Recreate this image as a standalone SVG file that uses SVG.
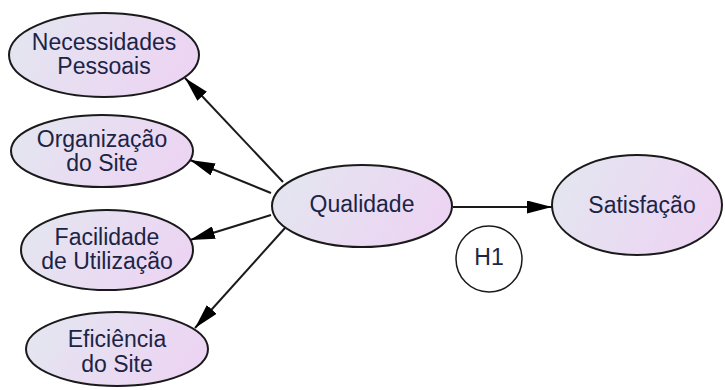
<svg xmlns="http://www.w3.org/2000/svg" width="725" height="390" viewBox="0 0 725 390">
<style>
.n{stroke:#1a1a1a;stroke-width:2;fill:url(#g)}
.t{font-family:"Liberation Sans",Arial,sans-serif;font-size:23px;fill:#1c2446;text-anchor:middle}
.c{stroke:#1a1a1a;stroke-width:2;fill:none;marker-end:url(#a)}
</style>
<defs>
<linearGradient id="g" x1="0" y1="0" x2="1" y2="0.3">
<stop offset="0" stop-color="#e3e7f0"/>
<stop offset="1" stop-color="#ecd5f3"/>
</linearGradient>
<marker id="a" viewBox="0 0 25 13" refX="25" refY="6.5" markerWidth="25" markerHeight="13" markerUnits="userSpaceOnUse" orient="auto">
<path d="M0,0 L25,6.5 L0,13 Z" fill="#000"/>
</marker>
</defs>
<g id="connectors">
<line class="c" x1="283" y1="182" x2="185" y2="78"/>
<line class="c" x1="271" y1="193" x2="190" y2="160"/>
<line class="c" x1="271" y1="215" x2="190" y2="240"/>
<line class="c" x1="285" y1="228" x2="195" y2="328"/>
<line class="c" x1="453" y1="207" x2="552" y2="207"/>
</g>
<g id="necessidades">
<ellipse class="n" cx="104" cy="55" rx="95" ry="42"/>
<text class="t" x="104" y="50">Necessidades</text>
<text class="t" x="104" y="74">Pessoais</text>
</g>
<g id="organizacao">
<ellipse class="n" cx="102" cy="151" rx="91" ry="36"/>
<text class="t" x="102" y="147">Organização</text>
<text class="t" x="102" y="171">do Site</text>
</g>
<g id="facilidade">
<ellipse class="n" cx="107" cy="250" rx="86" ry="40"/>
<text class="t" x="107" y="245">Facilidade</text>
<text class="t" x="107" y="269">de Utilização</text>
</g>
<g id="eficiencia">
<ellipse class="n" cx="117" cy="349" rx="91" ry="37"/>
<text class="t" x="117" y="347">Eficiência</text>
<text class="t" x="117" y="372">do Site</text>
</g>
<g id="qualidade">
<ellipse class="n" cx="362" cy="206" rx="90" ry="41"/>
<text class="t" x="362" y="212">Qualidade</text>
</g>
<g id="satisfacao">
<ellipse class="n" cx="637" cy="205" rx="85" ry="50"/>
<text class="t" x="642" y="213">Satisfação</text>
</g>
<g id="h1">
<circle cx="489" cy="259" r="33" fill="#fff" stroke="#1a1a1a" stroke-width="1.5"/>
<text class="t" x="489" y="265">H1</text>
</g>
</svg>
